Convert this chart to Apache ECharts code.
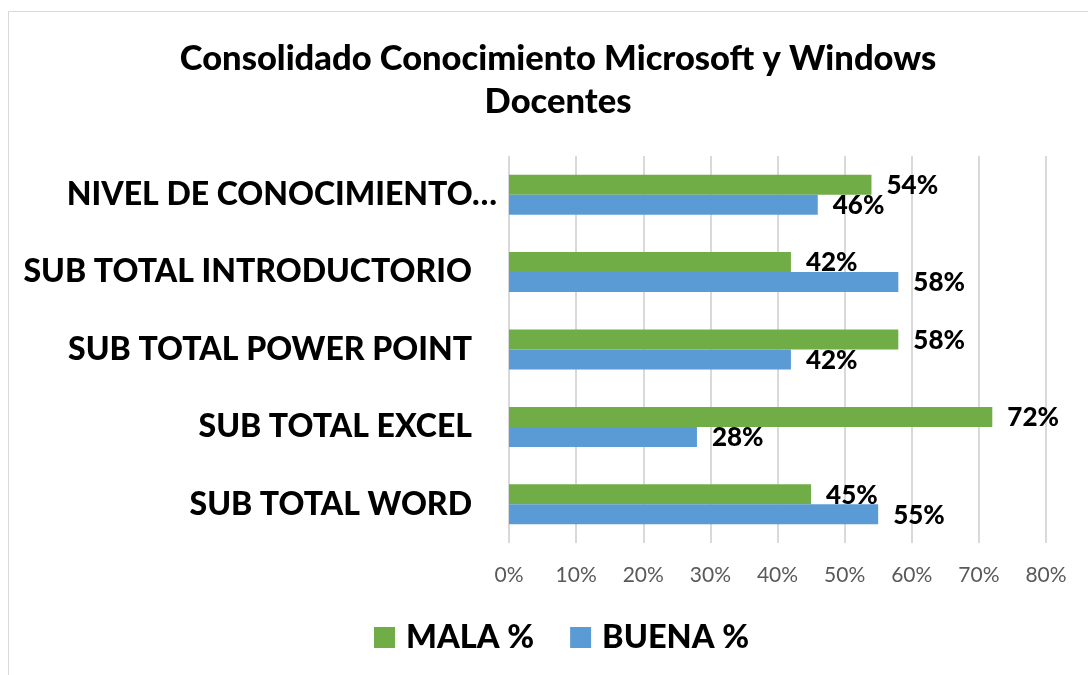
<!DOCTYPE html>
<html><head><meta charset="utf-8">
<script src="https://cdn.jsdelivr.net/npm/echarts@6/dist/echarts.min.js"></script>
<style>html,body{margin:0;padding:0;background:#fff}#c{width:1088px;height:675px}</style>
</head><body><div id="c"></div>
<script>
const categories = ['SUB TOTAL WORD', 'SUB TOTAL EXCEL', 'SUB TOTAL POWER POINT', 'SUB TOTAL INTRODUCTORIO', 'NIVEL DE CONOCIMIENTO…'];
const malaValues = [45, 72, 58, 42, 54];
const buenaValues = [55, 28, 42, 58, 46];
const xTicks = [0, 10, 20, 30, 40, 50, 60, 70, 80];
const seriesNames = ['MALA %', 'BUENA %'];
const titleText = 'Consolidado Conocimiento Microsoft y Windows\nDocentes';

const FONT = 'Lato';
const W = 900;
const chart = echarts.init(document.getElementById('c'), null, {renderer: 'canvas'});
const labelStyle = {show: true, position: 'right', distance: 15, color: '#000', fontFamily: FONT, fontWeight: W, fontSize: 26, offset: [0, 1], formatter: p => p.value + '%'};
chart.setOption({
  animation: false,
  backgroundColor: '#fff',
  graphic: [{type: 'rect', shape: {x: 8.5, y: 11.5, width: 1200, height: 800}, style: {fill: 'none', stroke: '#D9D9D9', lineWidth: 1}, silent: true}],
  title: {text: titleText, left: 553, top: 32, textAlign: 'center',
    textStyle: {fontFamily: FONT, fontWeight: W, fontSize: 34.5, color: '#000', lineHeight: 43}},
  legend: {data: seriesNames, left: 369, top: 616, icon: 'rect', itemWidth: 21, itemHeight: 21, itemGap: 36,
    textStyle: {fontFamily: FONT, fontWeight: W, fontSize: 32.5, color: '#000', padding: [0,0,0,6]}},
  grid: {left: 509, right: 42, top: 156, bottom: 132, containLabel: false},
  xAxis: {type: 'value', min: xTicks[0], max: xTicks[xTicks.length-1], interval: 10,
    axisLine: {show: false}, axisTick: {show: false},
    splitLine: {lineStyle: {color: '#D9D9D9', width: 2}},
    axisLabel: {formatter: v => v + '%', color: '#595959', fontFamily: FONT, fontSize: 21, margin: 22}},
  yAxis: {type: 'category', data: categories,
    axisLine: {show: false}, axisTick: {show: false},
    axisLabel: {margin: 12, interval: 0,
      formatter: v => v.indexOf('…') >= 0 ? '{b|' + v + '}' : '{a|' + v + '}',
      rich: {
        a: {fontFamily: FONT, fontWeight: W, fontSize: 32, color: '#000', padding: [0, 25, 0, 0]},
        b: {fontFamily: FONT, fontWeight: W, fontSize: 32, color: '#000'}
      }}},
  series: [
    {name: seriesNames[0], type: 'bar', data: malaValues, barWidth: 20, barGap: '0%', itemStyle: {color: '#70AD47'}, label: labelStyle},
    {name: seriesNames[1], type: 'bar', data: buenaValues, barWidth: 20, barGap: '0%', itemStyle: {color: '#5B9BD5'}, label: labelStyle}
  ]
});
</script></body></html>
